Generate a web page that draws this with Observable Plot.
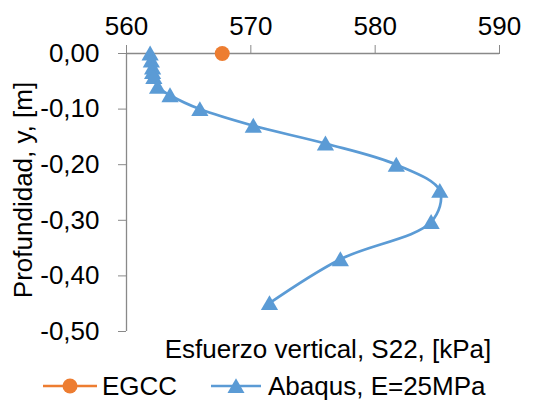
<!DOCTYPE html>
<html><head><meta charset="utf-8">
<script src="https://cdn.jsdelivr.net/npm/d3@7"></script>
<script src="https://cdn.jsdelivr.net/npm/@observablehq/plot@0.6"></script>
<style>
body{margin:0;background:#fff;}
#wrap{position:relative;width:534px;height:402px;font-family:"Liberation Sans",Arial,sans-serif;font-size:26px;color:#000;}
#wrap svg.plot{position:absolute;left:0;top:0;}
.lbl{position:absolute;white-space:nowrap;line-height:1;}
</style>
</head><body>
<div id="wrap"></div>
<script>
// Data
const abaqusS22 = [561.9, 562.0, 562.1, 562.1, 562.2, 562.5, 563.5, 565.9, 570.2, 576.0, 581.7, 585.2, 584.5, 577.2, 571.5];
const abaqusDepth = [0, -0.0125, -0.025, -0.0335, -0.0425, -0.06, -0.075, -0.10, -0.13, -0.162, -0.20, -0.247, -0.303, -0.37, -0.449];
const egccS22 = [567.7];
const egccDepth = [0];
const xTicks = [560, 570, 580, 590];
const yTicks = [0, -0.1, -0.2, -0.3, -0.4, -0.5];
const seriesNames = ["EGCC", "Abaqus, E=25MPa"];
const xTitle = "Esfuerzo vertical, S22, [kPa]";
const yTitle = "Profundidad, y, [m]";

const abaqus = abaqusS22.map((v, i) => ({x: v, y: abaqusDepth[i]}));
const egcc = egccS22.map((v, i) => ({x: v, y: egccDepth[i]}));

const orange = "#ED7D31", blue = "#5B9BD5", grey = "#898989";

const chart = Plot.plot({
  width: 534, height: 346,
  marginTop: 53, marginLeft: 126, marginRight: 35, marginBottom: 15,
  style: {fontSize: "26px", fontFamily: "'Liberation Sans', Arial, sans-serif", color: "#000", background: "transparent"},
  x: {domain: [560, 590]},
  y: {domain: [-0.5, 0]},
  marks: [
    Plot.ruleY([0], {stroke: grey, strokeWidth: 1.3}),
    Plot.ruleX([560], {stroke: grey, strokeWidth: 1.3}),
    Plot.axisX(xTicks, {anchor: "top", tickSize: 9, tickPadding: 10, stroke: grey, fill: "#000", label: null, tickFormat: d => String(d)}),
    Plot.axisY(yTicks, {anchor: "left", tickSize: 8, tickPadding: 19, stroke: grey, fill: "#000", label: null, tickFormat: d => (d === 0 ? 0 : d).toFixed(2).replace(".", ",")}),
    Plot.line(abaqus, {x: "x", y: "y", stroke: blue, strokeWidth: 2.7, curve: "catmull-rom"}),
    Plot.dot(abaqus, {x: "x", y: "y", symbol: "triangle", r: 6.4, fill: blue, stroke: "none", dy: 2}),
    Plot.dot(egcc, {x: "x", y: "y", r: 7.5, fill: orange, stroke: "none"})
  ]
});
chart.classList.add("plot");
const wrap = document.getElementById("wrap");
wrap.appendChild(chart);

function addLabel(text, left, top, extra) {
  const d = document.createElement("div");
  d.className = "lbl";
  d.textContent = text;
  d.style.left = left + "px";
  d.style.top = top + "px";
  d.style.transform = extra;
  wrap.appendChild(d);
  return d;
}
addLabel(yTitle, 23, 190, "translate(-50%,-50%) rotate(-90deg)");
addLabel(xTitle, 328, 349, "translate(-50%,-50%)");

// Legend
const ns = "http://www.w3.org/2000/svg";
function legendSwatch(left, w, color, shape) {
  const s = document.createElementNS(ns, "svg");
  s.setAttribute("width", w); s.setAttribute("height", 20);
  s.style.position = "absolute"; s.style.left = left + "px"; s.style.top = "376px";
  const l = document.createElementNS(ns, "line");
  l.setAttribute("x1", 0); l.setAttribute("x2", w); l.setAttribute("y1", 10); l.setAttribute("y2", 10);
  l.setAttribute("stroke", color); l.setAttribute("stroke-width", 2.7);
  s.appendChild(l);
  const p = document.createElementNS(ns, "path");
  p.setAttribute("fill", color);
  p.setAttribute("transform", `translate(${w / 2},${shape === "triangle" ? 12 : 10})`);
  p.setAttribute("d", d3.symbol(shape === "triangle" ? d3.symbolTriangle : d3.symbolCircle, shape === "triangle" ? 125 : Math.PI * 7.5 * 7.5)());
  s.appendChild(p);
  wrap.appendChild(s);
}
legendSwatch(43, 54, orange, "circle");
addLabel(seriesNames[0], 102, 386, "translateY(-50%)");
legendSwatch(211, 50, blue, "triangle");
addLabel(seriesNames[1], 268, 386, "translateY(-50%)");
</script>
</body></html>
